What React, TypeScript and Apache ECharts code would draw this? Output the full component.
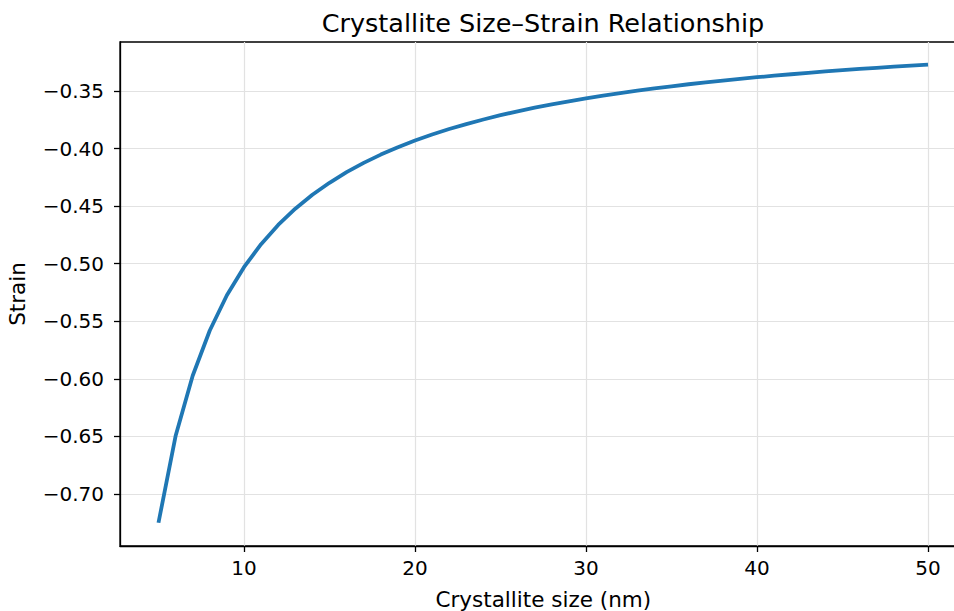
import React, { useEffect, useRef } from "react";
import * as echarts from "echarts";

const titleText = "Crystallite Size–Strain Relationship";
const xLabel = "Crystallite size (nm)";
const yLabel = "Strain";

const sizes = [
  5, 6, 7, 8, 9, 10, 11, 12, 13, 14, 15, 16, 17, 18, 19, 20, 21, 22, 23, 24, 25,
  26, 27, 28, 29, 30, 31, 32, 33, 34, 35, 36, 37, 38, 39, 40, 41, 42, 43, 44, 45,
  46, 47, 48, 49, 50,
];
const strains = [
  -0.725, -0.6497, -0.5973, -0.558, -0.5274, -0.503, -0.483, -0.4663, -0.4522,
  -0.4401, -0.4297, -0.4205, -0.4124, -0.4052, -0.3988, -0.393, -0.3878, -0.383,
  -0.3787, -0.3747, -0.371, -0.3676, -0.3645, -0.3616, -0.3589, -0.3563, -0.354,
  -0.3518, -0.3497, -0.3477, -0.3459, -0.3441, -0.3425, -0.3409, -0.3394, -0.338,
  -0.3367, -0.3354, -0.3342, -0.333, -0.3319, -0.3308, -0.3298, -0.3288, -0.3279,
  -0.327,
];
const xTicks = [10, 20, 30, 40, 50];
const yTicks = [-0.7, -0.65, -0.6, -0.55, -0.5, -0.45, -0.4, -0.35];

const FONT = "DejaVu Sans";

export default function App() {
  const ref = useRef<HTMLDivElement>(null);
  useEffect(() => {
    if (!ref.current) return;
    const chart = echarts.init(ref.current, null, { renderer: "svg" });
    const gridColor = "#e2e2e2";
    chart.setOption({
      animation: false,
      backgroundColor: "#ffffff",
      title: {
        text: titleText,
        left: 538,
        top: 5,
        textAlign: "center",
        textStyle: { fontFamily: FONT, fontSize: 25.5, fontWeight: "normal", color: "#000" },
      },
      grid: {
        left: 120,
        top: 42,
        width: 846.5,
        height: 504,
        outerBoundsMode: "none",
        containLabel: false,
        show: true,
        borderColor: "#000",
        borderWidth: 1.3,
        backgroundColor: "transparent",
      },
      xAxis: {
        type: "value",
        min: 2.75,
        max: 52.25,
        name: xLabel,
        nameLocation: "middle",
        nameGap: 42,
        nameTextStyle: { fontFamily: FONT, fontSize: 21.5, color: "#000" },
        axisLine: { show: true, onZero: false, lineStyle: { color: "#000", width: 1.3 } },
        axisTick: { show: true, length: 6, customValues: xTicks, lineStyle: { color: "#000", width: 1.3 } },
        axisLabel: {
          customValues: xTicks,
          fontFamily: FONT,
          fontSize: 20,
          color: "#000",
          margin: 12,
          formatter: (v: number) => String(v),
        },
        splitLine: { show: true, lineStyle: { color: gridColor, width: 1.2 } },
      },
      yAxis: {
        type: "value",
        min: -0.7452,
        max: -0.3074,
        name: yLabel,
        nameLocation: "middle",
        nameGap: 92,
        nameRotate: 90,
        nameTextStyle: { fontFamily: FONT, fontSize: 21.5, color: "#000" },
        axisLine: { show: true, onZero: false, lineStyle: { color: "#000", width: 1.3 } },
        axisTick: { show: true, length: 6, customValues: yTicks, lineStyle: { color: "#000", width: 1.3 } },
        axisLabel: {
          customValues: yTicks,
          fontFamily: FONT,
          fontSize: 20,
          color: "#000",
          margin: 16,
          formatter: (v: number) => v.toFixed(2).replace("-", "\u2212"),
        },
        splitLine: { show: true, lineStyle: { color: gridColor, width: 1.2 } },
      },
      series: [
        {
          type: "line",
          data: sizes.map((s, i) => [s, strains[i]]),
          showSymbol: false,
          symbol: "none",
          lineStyle: { color: "#1f77b4", width: 3.8 },
          itemStyle: { color: "#1f77b4" },
          clip: true,
        },
      ],
    });
    return () => chart.dispose();
  }, []);
  return (
    <div
      ref={ref}
      style={{ position: "fixed", left: 0, top: 0, width: 954, height: 611, background: "#fff" }}
    />
  );
}
